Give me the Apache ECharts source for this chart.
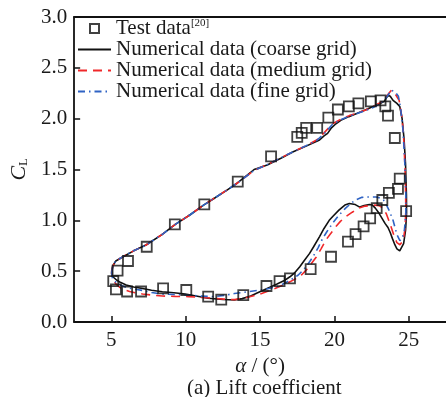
<!DOCTYPE html>
<html>
<head>
<meta charset="utf-8">
<script src="https://cdn.jsdelivr.net/npm/echarts@6/dist/echarts.min.js"></script>
<style>html,body{margin:0;padding:0;background:#fff;}#chart{width:446px;height:397px;}</style>
</head>
<body>
<div id="chart"></div>
<script>
var xTicks = [5, 10, 15, 20, 25];
var yTicks = [0, 0.5, 1.0, 1.5, 2.0, 2.5, 3.0];

var testData = [
[5.13,0.403],[5.31,0.32],[5.42,0.505],[6.06,0.30],[6.12,0.60],[7.0,0.30],[7.38,0.74],[8.48,0.33],
[9.27,0.96],[10.04,0.315],[11.25,1.157],[11.51,0.25],[12.39,0.22],[13.5,1.38],[13.87,0.265],
[15.43,0.354],[15.74,1.63],[16.31,0.403],[17.01,0.43],[17.5,1.82],[17.8,1.86],[18.1,1.91],
[18.4,0.52],[18.84,1.91],[19.59,2.01],[19.77,0.642],[20.23,2.09],[20.91,0.79],[20.97,2.12],
[21.42,0.865],[21.61,2.15],[21.96,0.94],[22.4,1.02],[22.45,2.17],[22.84,1.12],[23.1,2.18],
[23.22,1.2],[23.42,2.12],[23.6,2.03],[23.66,1.27],[24.06,1.81],[24.27,1.31],[24.39,1.41],[24.82,1.09]
];

var coarse = [
[5.02,0.50],[5.1,0.555],[5.3,0.6],[5.79,0.642],[6.5,0.7],[7.33,0.757],[8.4,0.86],[9.3,0.96],
[10.3,1.055],[11.2,1.15],[11.95,1.22],[12.8,1.3],[13.5,1.37],[14.6,1.5],[15.48,1.544],[16.4,1.61],
[17.23,1.675],[18.1,1.73],[18.7,1.77],[19.0,1.79],[19.3,1.83],[19.54,1.855],[19.8,1.91],[20.1,1.95],
[20.5,1.99],[20.97,2.02],[21.5,2.05],[22.07,2.085],[22.6,2.12],[23.07,2.15],[23.35,2.17],[23.6,2.23],
[23.75,2.22],[23.94,2.18],[24.2,2.15],[24.39,2.12],[24.55,2.0],[24.68,1.8],[24.78,1.55],[24.84,1.25],
[24.85,1.07],[24.78,0.9],[24.65,0.77],[24.39,0.70],[24.2,0.72],[24.06,0.76],[23.9,0.82],[23.75,0.88],
[23.6,0.93],[23.4,0.97],[23.2,1.02],[22.95,1.08],[22.75,1.12],[22.55,1.15],[22.35,1.155],[22.0,1.145],
[21.7,1.13],[21.4,1.155],[21.0,1.165],[20.7,1.15],[20.3,1.10],[19.9,1.04],[19.65,1.0],[19.3,0.92],
[19.0,0.84],[18.6,0.74],[18.33,0.675],[17.95,0.6],[17.67,0.544],[17.3,0.48],[17.01,0.445],[16.6,0.405],
[16.14,0.374],[15.7,0.345],[15.25,0.315],[14.8,0.285],[14.37,0.256],[13.8,0.23],[13.27,0.216],[12.5,0.222],
[11.5,0.233],[10.7,0.255],[9.97,0.275],[9.2,0.288],[8.43,0.298],[7.7,0.312],[7.1,0.33],[6.5,0.345],
[6.0,0.364],[5.6,0.39],[5.35,0.413],[5.1,0.445],[5.02,0.47],[5.02,0.50]
];

var medium = [
[5.02,0.49],[5.1,0.55],[5.3,0.6],[5.8,0.645],[6.5,0.7],[7.33,0.757],[8.4,0.86],[9.3,0.96],[10.3,1.055],
[11.2,1.15],[12.0,1.225],[12.8,1.3],[13.5,1.37],[14.6,1.49],[15.5,1.55],[16.4,1.615],[17.23,1.675],
[18.1,1.735],[18.8,1.79],[19.3,1.86],[19.87,1.95],[20.5,2.0],[21.0,2.03],[21.6,2.06],[22.1,2.085],
[22.6,2.12],[23.1,2.16],[23.5,2.22],[23.83,2.28],[24.1,2.24],[24.35,2.18],[24.55,2.0],[24.68,1.75],
[24.77,1.4],[24.8,1.1],[24.75,0.92],[24.62,0.8],[24.4,0.76],[24.2,0.78],[24.0,0.85],[23.73,0.97],
[23.5,1.06],[23.28,1.12],[23.0,1.145],[22.73,1.15],[22.4,1.145],[22.07,1.14],[21.63,1.12],[21.2,1.08],
[20.75,1.035],[20.4,0.99],[20.1,0.94],[19.8,0.88],[19.44,0.81],[19.1,0.72],[18.78,0.64],[18.4,0.565],
[18.1,0.51],[17.8,0.465],[17.46,0.43],[17.0,0.395],[16.57,0.364],[16.0,0.33],[15.47,0.30],[14.9,0.27],
[14.37,0.25],[13.8,0.23],[13.27,0.22],[12.6,0.225],[11.95,0.233],[11.0,0.243],[10.2,0.25],[9.3,0.252],
[8.43,0.255],[7.7,0.265],[7.1,0.275],[6.6,0.288],[6.23,0.30],[5.8,0.32],[5.57,0.34],[5.3,0.375],
[5.13,0.413],[5.04,0.45],[5.02,0.49]
];

var fine = [
[5.02,0.48],[5.1,0.55],[5.3,0.6],[5.8,0.645],[6.5,0.7],[7.33,0.757],[8.4,0.86],[9.3,0.96],[10.3,1.055],
[11.2,1.15],[12.0,1.225],[12.8,1.3],[13.5,1.37],[14.6,1.49],[15.5,1.55],[16.4,1.615],[17.23,1.675],
[18.1,1.735],[18.8,1.785],[19.3,1.85],[19.87,1.945],[20.5,1.995],[21.0,2.025],[21.6,2.055],[22.1,2.08],
[22.6,2.11],[23.1,2.15],[23.5,2.21],[23.83,2.28],[24.1,2.26],[24.3,2.22],[24.45,2.1],[24.6,1.9],
[24.72,1.6],[24.8,1.25],[24.8,1.05],[24.7,0.9],[24.55,0.82],[24.4,0.8],[24.2,0.86],[23.94,1.0],
[23.7,1.09],[23.5,1.15],[23.3,1.2],[23.07,1.22],[22.8,1.23],[22.5,1.23],[22.1,1.23],[21.85,1.226],
[21.41,1.20],[21.1,1.165],[20.75,1.12],[20.3,1.05],[19.87,0.97],[19.5,0.89],[19.2,0.82],[18.9,0.73],
[18.55,0.64],[18.2,0.565],[17.9,0.51],[17.55,0.46],[17.23,0.43],[16.7,0.385],[16.14,0.347],[15.6,0.33],
[15.03,0.315],[14.2,0.298],[13.27,0.28],[12.6,0.262],[11.95,0.25],[11.0,0.255],[10.2,0.265],[9.3,0.27],
[8.43,0.275],[7.7,0.29],[7.1,0.31],[6.5,0.325],[6.0,0.34],[5.6,0.365],[5.24,0.40],[5.08,0.43],[5.02,0.48]
];

var seriesNames = ['Test data', 'Numerical data (coarse grid)', 'Numerical data (medium grid)', 'Numerical data (fine grid)'];

var FONT = 'Liberation Serif, Times New Roman, serif';
var TXT = '#1a1a1a';
var chart = echarts.init(document.getElementById('chart'), null, {renderer: 'canvas'});
chart.setOption({
  backgroundColor: '#fff',
  animation: false,
  textStyle: {fontFamily: FONT, color: TXT},
  title: {
    text: '(a) Lift coefficient',
    left: 182, top: 373,
    textStyle: {fontFamily: FONT, fontSize: 21, fontWeight: 'normal', color: TXT}
  },
  grid: {left: 70, top: 17, right: -3, bottom: 75, containLabel: false},
  legend: {
    data: [
      {name: seriesNames[0], icon: 'path://M0,0L10,0L10,10L0,10Z'},
      {name: seriesNames[1], itemStyle: {opacity: 0, color: 'rgba(0,0,0,0)', borderWidth: 0}},
      {name: seriesNames[2], itemStyle: {opacity: 0, color: 'rgba(0,0,0,0)', borderWidth: 0}},
      {name: seriesNames[3], itemStyle: {opacity: 0, color: 'rgba(0,0,0,0)', borderWidth: 0}}
    ],
    orient: 'vertical',
    left: 77, top: 18,
    padding: 0,
    itemGap: 0,
    itemWidth: 33,
    itemHeight: 9,
    symbolKeepAspect: true,
    textStyle: {
      fontFamily: FONT, fontSize: 21, color: TXT, lineHeight: 20,
      rich: {sup: {fontFamily: FONT, fontSize: 11, color: TXT, padding: [0, 0, 10, 0]}}
    },
    formatter: function (name) {
      return name === 'Test data' ? 'Test data{sup|[20]}' : name;
    }
  },
  xAxis: [{
    type: 'value', min: 2.5, max: 27.5,
    axisLine: {show: true, onZero: false, lineStyle: {color: '#111', width: 1.8}},
    axisTick: {show: true, inside: true, length: 6, customValues: xTicks, lineStyle: {color: '#111', width: 1.5}},
    axisLabel: {show: true, customValues: xTicks, margin: 8, fontFamily: FONT, fontSize: 21, color: TXT},
    splitLine: {show: false},
    name: '{i|α} / (°)',
    nameLocation: 'middle', nameGap: 25,
    nameTextStyle: {fontFamily: FONT, fontSize: 21, color: TXT,
      rich: {i: {fontFamily: FONT, fontSize: 21, fontStyle: 'italic', color: TXT}}}
  }, {
    type: 'value', min: 2.5, max: 27.5, position: 'top',
    axisLine: {show: true, onZero: false, lineStyle: {color: '#111', width: 1.8}},
    axisTick: {show: false}, axisLabel: {show: false}, splitLine: {show: false}
  }],
  yAxis: {
    type: 'value', min: 0, max: 3, interval: 0.5,
    axisLine: {show: true, onZero: false, lineStyle: {color: '#111', width: 1.8}},
    axisTick: {show: true, inside: true, length: 6, lineStyle: {color: '#111', width: 1.5}},
    axisLabel: {margin: 7, fontFamily: FONT, fontSize: 21, color: TXT,
      formatter: function (v) { return v.toFixed(1); }},
    splitLine: {show: false},
    name: '{c|C}{s|L}',
    nameLocation: 'middle', nameGap: 38, nameRotate: 90,
    nameTextStyle: {fontFamily: FONT, color: TXT,
      rich: {
        c: {fontFamily: FONT, fontSize: 22, fontStyle: 'italic', color: TXT},
        s: {fontFamily: FONT, fontSize: 12, color: TXT, padding: [10, 0, 0, 0]}
      }}
  },
  series: [
    {
      name: seriesNames[1], type: 'line', data: coarse, symbol: 'none', smooth: false,
      lineStyle: {color: '#111', width: 1.6, type: 'solid'}, itemStyle: {color: '#111'}, z: 2
    },
    {
      name: seriesNames[2], type: 'line', data: medium, symbol: 'none',
      lineStyle: {color: '#f0282a', width: 1.6, type: [9, 6]}, itemStyle: {color: '#f0282a'}, z: 3
    },
    {
      name: seriesNames[3], type: 'line', data: fine, symbol: 'none',
      lineStyle: {color: '#2f63c4', width: 1.6, type: [7, 4, 1.5, 4]}, itemStyle: {color: '#2f63c4'}, z: 4
    },
    {
      name: seriesNames[0], type: 'scatter', data: testData, symbol: 'rect', symbolSize: 10,
      symbolKeepAspect: true,
      itemStyle: {color: 'rgba(255,255,255,0)', borderColor: '#111', borderWidth: 1.8}, z: 5
    }
  ]
});
</script>
</body>
</html>
